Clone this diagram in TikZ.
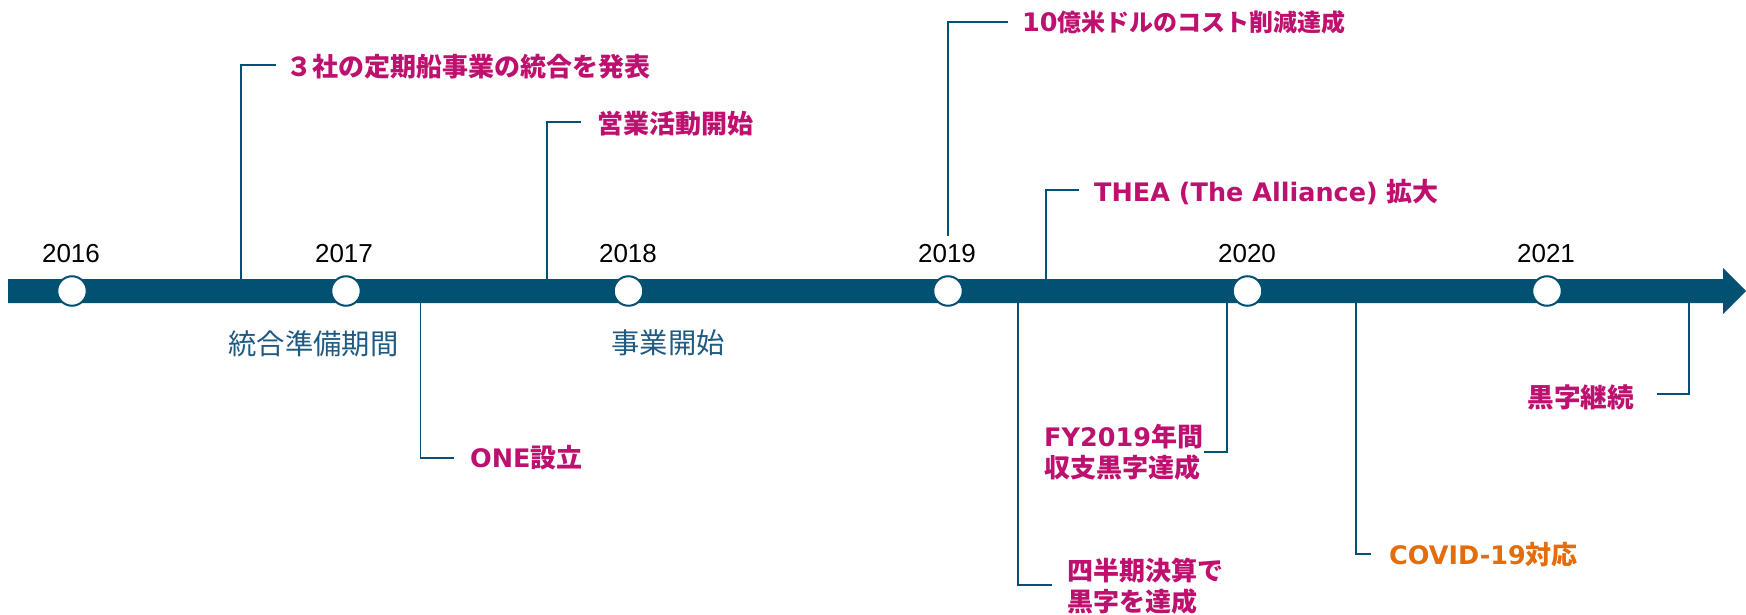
\documentclass[tikz,border=0pt]{standalone}
\usepackage{fontspec}
\setmainfont{Liberation Sans}
\newfontfamily\jp{Noto Sans CJK JP}
\newfontfamily\lat{DejaVu Sans}
\newcommand\lt[1]{{\lat\bfseries\fontsize{25.5}{30.5}\selectfont #1}}
\definecolor{barc}{RGB}{2,80,114}
\definecolor{evc}{RGB}{190,16,110}
\definecolor{orc}{RGB}{228,108,10}
\definecolor{erac}{RGB}{31,90,130}
\begin{document}
\begin{tikzpicture}[x=1pt,y=-1pt,
  dot/.style={circle,draw=barc,line width=2pt,fill=white,minimum size=29.5pt,inner sep=0pt},
  yr/.style={font=\fontsize{26}{31}\selectfont,text=black,inner sep=0pt},
  era/.style={font=\jp\fontsize{28.3}{34}\selectfont,text=erac,inner sep=0pt},
  ev/.style={font=\jp\bfseries\fontsize{26}{30.5}\selectfont,text=evc,inner sep=0pt,align=left},
  conn/.style={draw=barc,line width=1.8pt}]
\useasboundingbox (0,0) rectangle (1746,615);
% main arrow
\fill[barc] (8,279) -- (1723,279) -- (1723,268) -- (1746,291) -- (1723,314) -- (1723,303) -- (8,303) -- cycle;
% year dots
\node[dot] (d16) at (72,291) {};
\node[dot] (d17) at (346,291) {};
\node[dot] (d18) at (628.5,291) {};
\node[dot] (d19) at (948,291) {};
\node[dot] (d20) at (1247.5,291) {};
\node[dot] (d21) at (1547,291) {};
% year labels
\node[yr] (y16) at (71,254) {2016};
\node[yr] (y17) at (344,254) {2017};
\node[yr] (y18) at (628,254) {2018};
\node[yr] (y19) at (947,254) {2019};
\node[yr] (y20) at (1247,254) {2020};
\node[yr] (y21) at (1546,254) {2021};
% period labels
\node[era] (p1) at (313.5,344) {統合準備期間};
\node[era] (p2) at (668,343) {事業開始};
% event labels
\node[ev,anchor=west] (e1) at (286,67) {３社の定期船事業の統合を発表};
\node[ev,anchor=west] (e2) at (597,124) {営業活動開始};
\node[ev,anchor=west,font=\jp\bfseries\fontsize{24}{30}\selectfont] (e3) at (1022,22.5) {\lt{10}億米ドルのコスト削減達成};
\node[ev,anchor=west] (e4) at (1094,192) {\lt{THEA (The Alliance) }拡大};
\node[ev,anchor=west] (e5) at (470,458) {\lt{ONE}設立};
\node[ev,anchor=west] (e6) at (1044,452.5) {\lt{FY2019}年間\\収支黒字達成};
\node[ev,anchor=west] (e7) at (1067,586) {四半期決算で\\黒字を達成};
\node[ev,anchor=west,text=orc] (e8) at (1389,555) {\lt{COVID-19}対応};
\node[ev,anchor=east,font=\jp\bfseries\fontsize{26.6}{30.5}\selectfont] (e9) at (1634,397) {黒字継続};
% connector end points
\coordinate (a1) at (241.3,279);   \coordinate (b1) at (275.7,65);
\coordinate (a2) at (547,279);     \coordinate (b2) at (581,122.3);
\coordinate (a3) at (947.7,236);   \coordinate (b3) at (1007.7,21.7);
\coordinate (a4) at (1045.7,279);  \coordinate (b4) at (1079,190);
\coordinate (a5) at (420.5,303);   \coordinate (b5) at (454,458.3);
\coordinate (a6) at (1227,303);    \coordinate (b6) at (1204,452.3);
\coordinate (a7) at (1018,303);    \coordinate (b7) at (1052,585);
\coordinate (a8) at (1356,303);    \coordinate (b8) at (1371,554);
\coordinate (a9) at (1689,303);    \coordinate (b9) at (1656.7,394.3);
\foreach \i in {1,...,9} {\draw[conn] (a\i) |- (b\i);}
\end{tikzpicture}
\end{document}
